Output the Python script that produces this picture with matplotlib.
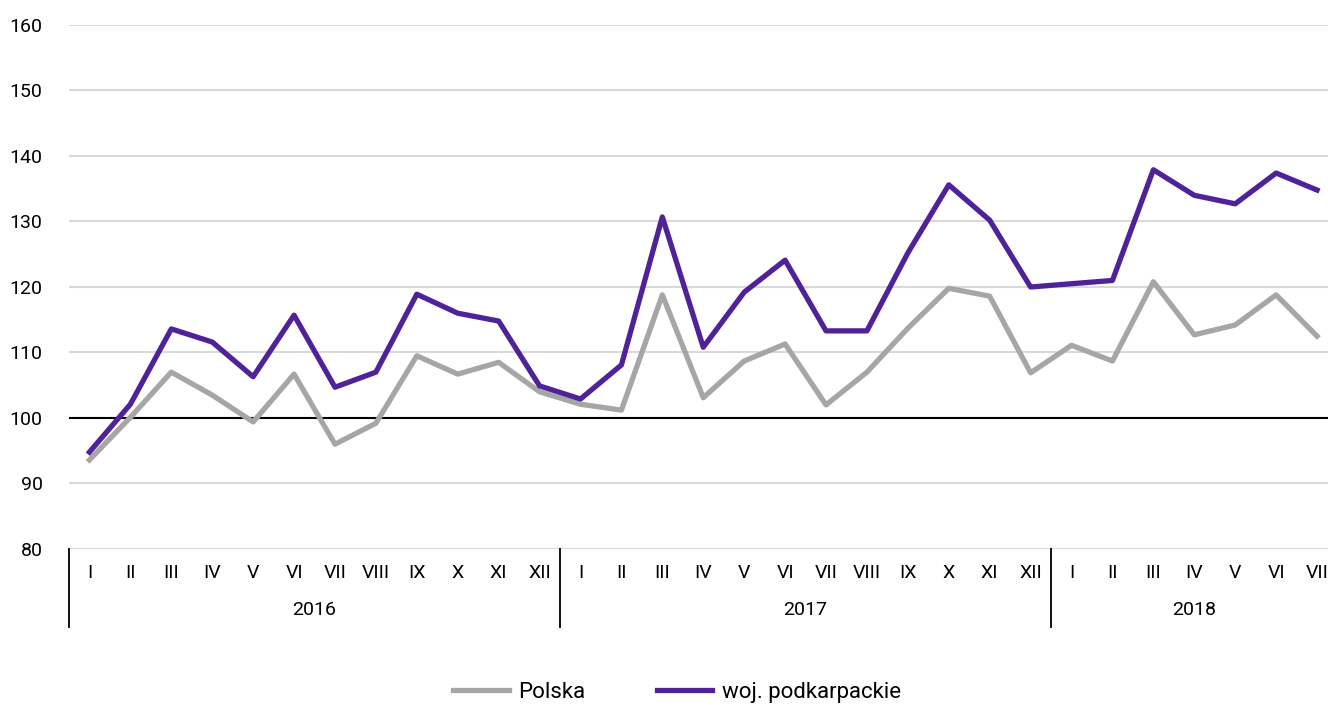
import numpy as np
import matplotlib.pyplot as plt
import matplotlib.transforms as mtransforms

plt.rcParams['font.family'] = ['Roboto', 'DejaVu Sans']

months = ['I', 'II', 'III', 'IV', 'V', 'VI', 'VII', 'VIII', 'IX', 'X', 'XI', 'XII']
years = ['2016', '2017', '2018']
month_labels = months + months + months[:7]

polska = [93.6, 100.1, 107.0, 103.5, 99.4, 106.7, 96.0, 99.2, 109.5, 106.7, 108.5, 104.0,
          102.1, 101.2, 118.8, 103.1, 108.7, 111.3, 102.0, 107.0, 113.7, 119.8, 118.6, 106.9,
          111.1, 108.7, 120.8, 112.7, 114.2, 118.8, 112.5]
podkarpackie = [94.8, 102.1, 113.6, 111.6, 106.3, 115.7, 104.7, 107.0, 118.9, 116.0, 114.8, 104.9,
                102.9, 108.1, 130.7, 110.8, 119.2, 124.1, 113.3, 113.3, 125.2, 135.6, 130.2, 120.0,
                120.5, 121.0, 137.9, 134.0, 132.7, 137.4, 134.8]

x = np.arange(len(month_labels))

fig = plt.figure(figsize=(13.28, 7.05), dpi=100)
ax = fig.add_axes([69 / 1328, 156 / 705, 1268.5 / 1328, 524 / 705])

# gridlines, with the 100 line in black
for v in range(80, 161, 10):
    if v == 100:
        continue
    ax.axhline(v, color='#d9d9d9', lw=1.5, zorder=1)
ax.axhline(100, color='black', lw=1.5, zorder=2)

ax.plot(x, polska, color='#a6a6a6', lw=3.8, label='Polska', zorder=3)
ax.plot(x, podkarpackie, color='#50229a', lw=3.8, label='woj. podkarpackie', zorder=4)

ax.set_xlim(-0.5, len(x) - 0.5)
ax.set_ylim(80, 160)
ax.set_yticks(range(80, 161, 10))
ax.tick_params(axis='y', length=0, labelsize=14, pad=19)
ax.set_xticks([])
for s in ax.spines.values():
    s.set_visible(False)

# two-level category axis: months, then years with separators
trans = mtransforms.blended_transform_factory(ax.transData, ax.transAxes)
for i, lab in enumerate(month_labels):
    ax.text(i, -0.045, lab, transform=trans, ha='center', va='center', fontsize=14)

for k, yr in enumerate(years):
    start = k * 12
    end = min(start + 12, len(x))
    ax.text((start + end - 1) / 2, -0.117, yr, transform=trans, ha='center', va='center', fontsize=14)
    ax.plot([start - 0.5, start - 0.5], [0, -0.149], transform=trans, color='black', lw=1.3, clip_on=False)

fig.legend(loc='center', bbox_to_anchor=(0.51, 0.018), ncol=2, frameon=False, fontsize=16,
           handlelength=2.5, columnspacing=3.2, handletextpad=0.45)

fig.savefig('out.png', dpi=100)
